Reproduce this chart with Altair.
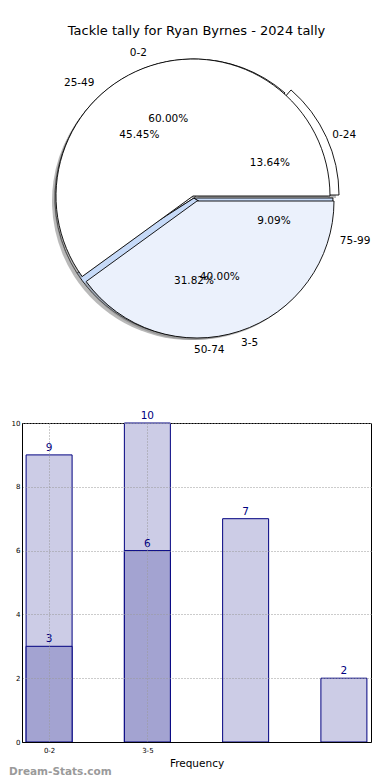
import math
import json
import altair as alt
import pandas as pd

# ---------------- data ----------------
title_text = "Tackle tally for Ryan Byrnes - 2024 tally"

tackle_ranges = ["0-24", "25-49", "50-74", "75-99"]
tackle_counts = [3, 10, 7, 2]

freq_cats = ["0-2", "3-5"]
freq_counts = [9, 6]

bar_positions = [0, 1, 2, 3]
bar_light = [9, 10, 7, 2]
bar_dark = [3, 6, None, None]
xtick_labels = ["0-2", "3-5"]
x_title = "Frequency"
watermark = "Dream-Stats.com"

# ---------------- styles ----------------
FONT = "DejaVu Sans"
pie1_colors = ["#ffffff", "#ffffff", "#c6daf8", "#c6daf8"]
pie2_colors = ["#ffffff", "#ebf1fc"]
pie1_explode = {"0-24": (6, -3)}
pie2_explode = {"0-2": (-1, -2), "3-5": (3, 3)}

PIE_W, PIE_H = 349, 354
CX, CY = 172, 143
R1, R2 = 139, 137
LABEL_R = 152
BAR_W, BAR_H = 349, 319

TWO_PI = 2 * math.pi
theta_scale = alt.Scale(domain=[0, 1], range=[math.pi / 2, math.pi / 2 + TWO_PI])
fill_scale = alt.Scale(domain=tackle_ranges + freq_cats, range=pie1_colors + pie2_colors)

df1 = pd.DataFrame({"cat": tackle_ranges, "v": tackle_counts, "i": list(range(len(tackle_ranges)))})
df2 = pd.DataFrame({"cat": freq_cats, "v": freq_counts, "i": list(range(len(freq_cats)))})


def prep(df):
    return (
        alt.Chart(df)
        .transform_joinaggregate(total="sum(v)")
        .transform_window(cum="sum(v)", sort=[alt.SortField("i")])
        .transform_calculate(
            t1="1 - datum.cum/datum.total",
            t2="1 - (datum.cum - datum.v)/datum.total",
            tm="1 - (datum.cum - datum.v/2)/datum.total",
            side="cos(2*PI*(datum.cum - datum.v/2)/datum.total)",
            pct="format(datum.v/datum.total, '.2%')",
        )
    )


def pie_layers(df, explode, r, shadow_off):
    base = prep(df)
    cats = list(df["cat"])
    fill = alt.Fill("cat:N", scale=fill_scale, legend=None)
    layers = []
    groups = []
    normal = [c for c in cats if c not in explode]
    if normal:
        groups.append((normal, (0, 0)))
    for c, off in explode.items():
        groups.append(([c], off))
    for gc, (ox, oy) in groups:
        layers.append(
            base.transform_filter(alt.FieldOneOfPredicate(field="cat", oneOf=gc))
            .mark_arc(radius=r, fill="#7f7f7f", opacity=0.55)
            .encode(
                theta=alt.Theta("t1:Q", scale=theta_scale, stack=False),
                theta2="t2:Q",
                x=alt.value(CX + ox + shadow_off[0]),
                y=alt.value(CY + oy + shadow_off[1]),
            )
        )
    for gc, (ox, oy) in groups:
        layers.append(
            base.transform_filter(alt.FieldOneOfPredicate(field="cat", oneOf=gc))
            .mark_arc(radius=r, stroke="black", strokeWidth=0.9)
            .encode(
                theta=alt.Theta("t1:Q", scale=theta_scale, stack=False),
                theta2="t2:Q",
                fill=fill,
                x=alt.value(CX + ox),
                y=alt.value(CY + oy),
            )
        )
    return layers


def label_layers(df, r):
    base = prep(df)
    out = []
    out.append(
        base.mark_text(radius=0.6 * r, font=FONT, fontSize=10.5, color="black")
        .encode(
            theta=alt.Theta("tm:Q", scale=theta_scale, stack=False),
            text="pct:N",
            x=alt.value(CX),
            y=alt.value(CY),
        )
    )
    for cond, align in (("datum.side > -0.001", "left"), ("datum.side <= -0.001", "right")):
        out.append(
            base.transform_filter(cond)
            .mark_text(radius=LABEL_R, font=FONT, fontSize=10.5, color="black", align=align)
            .encode(
                theta=alt.Theta("tm:Q", scale=theta_scale, stack=False),
                text="cat:N",
                x=alt.value(CX),
                y=alt.value(CY),
            )
        )
    return out


pie = alt.layer(
    *pie_layers(df1, pie1_explode, R1, (-3, 3)),
    *pie_layers(df2, pie2_explode, R2, (-2, 2)),
    *label_layers(df1, R1),
    *label_layers(df2, R1),
).properties(
    width=PIE_W,
    height=PIE_H,
    view=alt.ViewBackground(stroke="transparent"),
    title=alt.Title(title_text, font=FONT, fontSize=13, fontWeight="normal", anchor="middle", offset=10, color="black"),
)

# ---------------- bar chart ----------------
bdf = pd.DataFrame({"pos": bar_positions, "light": bar_light, "dark": bar_dark})
label_expr = json.dumps(xtick_labels) + "[datum.value]"

xenc = alt.X(
    "pos:Q",
    scale=alt.Scale(domain=[-0.225, 3.225], nice=False, zero=False),
    axis=alt.Axis(
        values=list(range(len(xtick_labels))),
        labelExpr=label_expr,
        title=x_title,
        titleFont=FONT,
        titleFontSize=10.5,
        titleFontWeight="normal",
        titleColor="black",
        titlePadding=5,
        labelFont=FONT,
        labelFontSize=7,
        labelColor="black",
        labelPadding=4,
        ticks=False,
        grid=True,
        gridDash=[1, 2],
        gridColor="#999999",
        gridWidth=1,
        domainColor="black",
        zindex=1,
    ),
)

yscale = alt.Scale(domain=[0, 10], nice=False)
yaxis = alt.Axis(
    values=[0, 2, 4, 6, 8, 10],
    title=None,
    labelFont=FONT,
    labelFontSize=7,
    labelColor="black",
    labelPadding=2,
    ticks=False,
    grid=True,
    gridDash=[1, 2],
    gridColor="#999999",
    gridWidth=1,
    domainColor="black",
    zindex=1,
)

bbase = alt.Chart(bdf)
light_bars = bbase.mark_bar(size=46, fill="#ccccE6", stroke="#000080", strokeWidth=1).encode(
    x=xenc, y=alt.Y("light:Q", scale=yscale, axis=yaxis)
)
dark_bars = bbase.transform_filter("isValid(datum.dark)").mark_bar(
    size=46, fill="#a3a3d1", stroke="#000080", strokeWidth=1
).encode(x=alt.X("pos:Q"), y=alt.Y("dark:Q"))
light_text = bbase.mark_text(baseline="bottom", dy=-2, font=FONT, fontSize=10.5, color="#000080").encode(
    x="pos:Q", y="light:Q", text="light:Q"
)
dark_text = bbase.transform_filter("isValid(datum.dark)").mark_text(
    baseline="bottom", dy=-2, font=FONT, fontSize=10.5, color="#000080"
).encode(x="pos:Q", y="dark:Q", text="dark:Q")
wm = alt.Chart(pd.DataFrame({"t": [watermark]})).mark_text(
    align="left", baseline="middle", font=FONT, fontSize=10.5, fontWeight="bold", color="#9a9a9a"
).encode(text="t:N", x=alt.value(-13), y=alt.value(BAR_H + 30))

bars = alt.layer(light_bars, dark_bars, light_text, dark_text, wm).properties(
    width=BAR_W,
    height=BAR_H,
    view=alt.ViewBackground(stroke="black", strokeWidth=1),
)

chart = alt.vconcat(pie, bars, spacing=0).properties(
    padding={"left": 0, "top": 16, "right": 0, "bottom": 0},
    background="white",
).configure_view(stroke="black")

chart.save("out.html", embed_options={"renderer": "svg", "actions": False})
